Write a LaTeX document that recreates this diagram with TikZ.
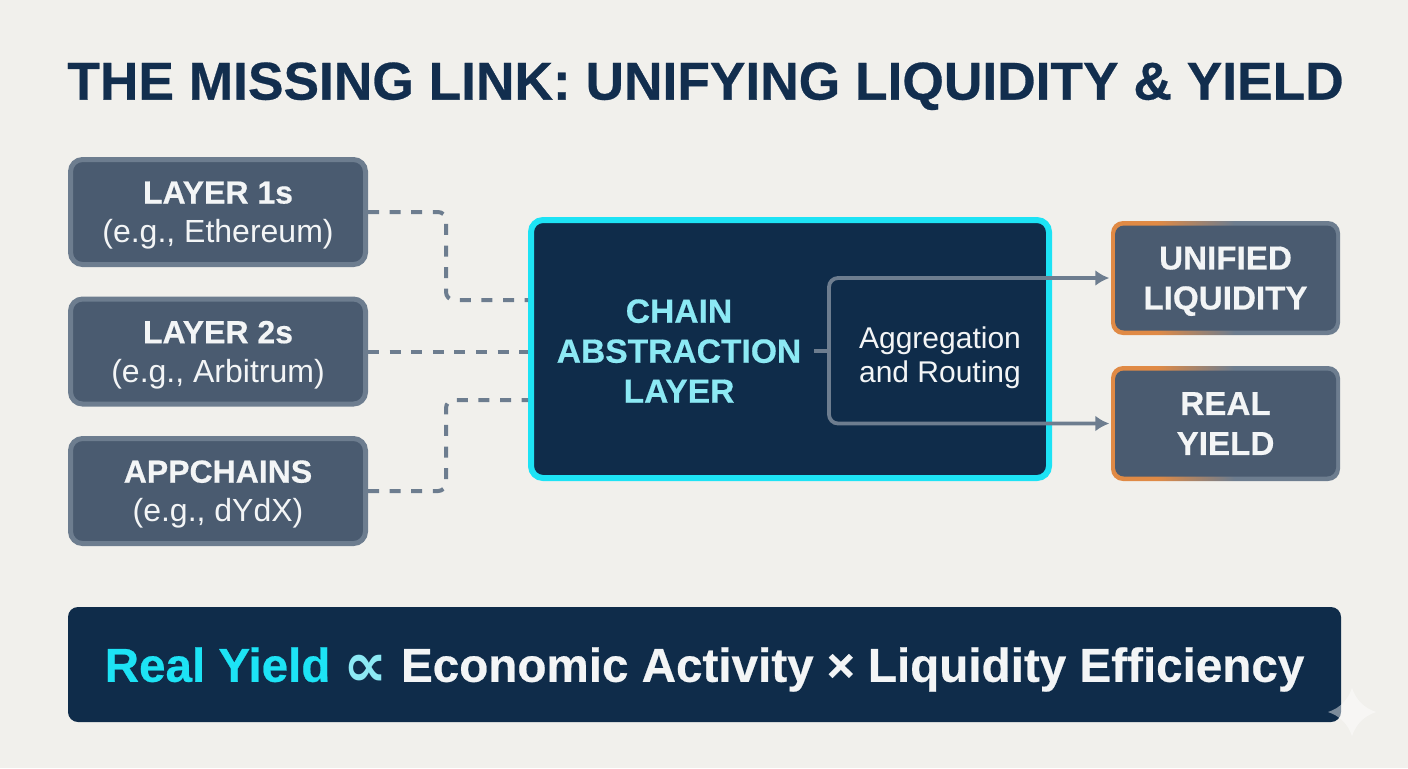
\documentclass[tikz,border=0pt]{standalone}
\usepackage{fontspec}
\setmainfont{Liberation Sans}[BoldFeatures={FakeBold=0.5}]
\newfontfamily\propfont{DejaVu Sans}

\definecolor{paperbg}{HTML}{F1F0EC}
\definecolor{navyink}{HTML}{122E4E}
\definecolor{navyfill}{HTML}{0F2C4A}
\definecolor{slatefill}{HTML}{4A5B70}
\definecolor{slateedge}{HTML}{6D7D8F}
\definecolor{glowcyan}{HTML}{1DE3F5}
\definecolor{palecyan}{HTML}{8CE9F4}
\definecolor{edgeorange}{HTML}{E08A45}
\definecolor{softwhite}{HTML}{F3F5F6}

\pgfdeclarehorizontalshading{edgefade}{100bp}{
  color(0bp)=(edgeorange); color(35bp)=(edgeorange);
  color(52bp)=(slateedge); color(100bp)=(slateedge)}

\tikzset{every picture/.style={line width=0.75pt}}
\tikzset{
  srcbox/.style={draw=slateedge,fill=slatefill,line width=2.5pt,rounded corners=6pt,
    minimum width=147.5pt,minimum height=52.5pt,inner sep=0pt,align=center,text=softwhite,
    text depth=0pt,font=\fontsize{16}{19.5}\selectfont},
  outbox/.style={fill=slatefill,rounded corners=4.5pt,minimum width=110.5pt,
    inner sep=0pt,align=center,text=softwhite,text depth=0pt,font=\fontsize{16.6}{20}\selectfont\bfseries},
  outedge/.style={shading=edgefade,rounded corners=6pt},
  feed/.style={draw=slateedge,line width=2pt,dash pattern=on 5.5pt off 5.3pt,rounded corners=4pt},
  flow/.style={draw=slateedge,line width=1.9pt,rounded corners=4.5pt},
  flowtip/.style={-{Latex[length=7pt,width=8pt]},shorten >=2.5pt},
}
\usetikzlibrary{arrows.meta}

\begin{document}
\begin{tikzpicture}[x=0.5pt,y=0.5pt,yscale=-1,xscale=1]
\useasboundingbox (0,0) rectangle (1408,768);
\fill [paperbg] (0,0) rectangle (1408,768);

% Title
\node (title) at (705.5,81) [text=navyink,text depth=0pt,font=\fontsize{26.65}{32}\selectfont\bfseries] {THE MISSING LINK: UNIFYING LIQUIDITY \& YIELD};

% Source boxes
\node (layer1) at (218,212) [srcbox] {\textbf{LAYER 1s}\\(e.g., Ethereum)};
\node (layer2) at (218,351.5) [srcbox] {\textbf{LAYER 2s}\\(e.g., Arbitrum)};
\node (appchains) at (218,491) [srcbox] {\textbf{APPCHAINS}\\(e.g., dYdX)};

% Centre box
\node (core) at (790,349) [draw=glowcyan,fill=navyfill,line width=3pt,rounded corners=6pt,minimum width=259pt,minimum height=129pt] {};
\node (corelabel) at (679,351) [text=palecyan,align=center,font=\fontsize{16.8}{20}\selectfont\bfseries] {CHAIN\\ABSTRACTION\\LAYER};
\node (agg) at (940,358) [text=softwhite,align=center,font=\fontsize{15}{17}\selectfont] {Aggregation\\and Routing};

% Output boxes
\shade [outedge] (1111,221) rectangle (1340,335);
\shade [outedge] (1111,366) rectangle (1340,481);
\node (unified) at (1225.5,278) [outbox,minimum height=52.5pt] {UNIFIED\\LIQUIDITY};
\node (realyield) at (1225.5,423.5) [outbox,minimum height=53pt] {REAL\\YIELD};

% Dashed feeds
\coordinate (in1) at (528,300);
\coordinate (in2) at (528,351.5);
\coordinate (in3) at (528,400);
\coordinate (bend1) at (446,212);
\coordinate (bend3) at (446,400);
\draw [feed] (layer1.east) -- (bend1) -- (bend1 |- in1) -- (in1);
\draw [feed] (layer2.east) -- (in2);
\draw [feed] (appchains.east) -- (bend3 |- appchains.east) -- (bend3) -- (in3);

% Routing
\coordinate (stemstart) at (814,351);
\coordinate (stemjoin) at (829,351);
\draw [flow] (stemstart) -- (stemjoin);
\draw [flow,flowtip] (stemjoin) |- (unified.west);
\draw [flow,flowtip] (stemjoin) |- (realyield.west);

% Bottom bar
\node (formula) at (704.5,664.5) [fill=navyfill,rounded corners=5pt,minimum width=636.5pt,minimum height=57.5pt,inner sep=0pt,text=softwhite,text depth=0pt,font=\fontsize{23.8}{30}\selectfont\bfseries] {\textcolor{glowcyan}{Real Yield} \raisebox{-2.5pt}{\propfont\fontsize{31}{30}\selectfont\textcolor{palecyan}{∝}} Economic Activity × Liquidity Efficiency};

% Corner sparkle
\fill [white,opacity=0.45] (1352,688) .. controls (1356,700) and (1364,708) .. (1376,712) .. controls (1364,716) and (1356,724) .. (1352,736) .. controls (1348,724) and (1340,716) .. (1328,712) .. controls (1340,708) and (1348,700) .. (1352,688) -- cycle;

\end{tikzpicture}
\end{document}
